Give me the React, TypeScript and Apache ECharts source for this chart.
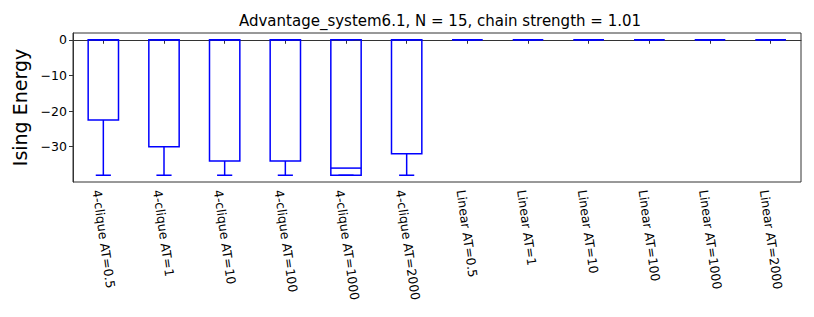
import React, { useEffect, useRef } from "react";
import * as echarts from "echarts";

const categories = [
  "4-clique AT=0.5",
  "4-clique AT=1",
  "4-clique AT=10",
  "4-clique AT=100",
  "4-clique AT=1000",
  "4-clique AT=2000",
  "Linear AT=0.5",
  "Linear AT=1",
  "Linear AT=10",
  "Linear AT=100",
  "Linear AT=1000",
  "Linear AT=2000",
];
// [whisker low, Q1, median, Q3, whisker high]
const lowWhisker = [-38, -38, -38, -38, -38, -38, 0, 0, 0, 0, 0, 0];
const q1 = [-22.5, -30, -34, -34, -38, -32, 0, 0, 0, 0, 0, 0];
const median = [0, 0, 0, 0, -36, 0, 0, 0, 0, 0, 0, 0];
const q3 = [0, 0, 0, 0, 0, 0, 0, 0, 0, 0, 0, 0];
const highWhisker = [0, 0, 0, 0, 0, 0, 0, 0, 0, 0, 0, 0];
const yTicks = [-30, -20, -10, 0];

const title = "Advantage_system6.1, N = 15, chain strength = 1.01";
const yName = "Ising Energy";
const BLUE = "#0000ff";
const FONT = "DejaVu Sans";

export default function App() {
  const ref = useRef<HTMLDivElement>(null);
  useEffect(() => {
    if (!ref.current) return;
    const chart = echarts.init(ref.current, null, { renderer: "svg" });
    const data = categories.map((_, i) => [i, lowWhisker[i], q1[i], median[i], q3[i], highWhisker[i]]);
    chart.setOption({
      animation: false,
      backgroundColor: "#ffffff",
      title: {
        text: title,
        left: 435,
        top: 8,
        textAlign: "center",
        textStyle: { fontFamily: FONT, fontSize: 15, fontWeight: "normal", color: "#000" },
      },
      grid: { left: 73, right: 13, top: 33, bottom: 135, show: true, borderColor: "#333", borderWidth: 1 },
      xAxis: {
        type: "category",
        data: categories,
        boundaryGap: true,
        axisLine: { show: true, lineStyle: { color: "#333", width: 1 } },
        axisTick: { show: true, alignWithLabel: true, inside: false, length: 4, lineStyle: { color: "#333" } },
        axisLabel: {
          interval: 0,
          rotate: -82,
          margin: 7,
          verticalAlign: "top",
          fontFamily: FONT,
          fontSize: 12.5,
          color: "#000",
        },
        splitLine: { show: false },
      },
      yAxis: {
        type: "value",
        min: -39.9,
        max: 1.9,
        name: yName,
        nameLocation: "middle",
        nameGap: 40,
        nameTextStyle: { fontFamily: FONT, fontSize: 19, color: "#000" },
        axisLine: { show: true, lineStyle: { color: "#333", width: 1 } },
        axisTick: { show: true, length: 4, customValues: yTicks, lineStyle: { color: "#333" } },
        axisLabel: {
          customValues: yTicks,
          fontFamily: FONT,
          fontSize: 12.5,
          color: "#000",
          margin: 6,
          formatter: (v: number) => (v < 0 ? "\u2212" + Math.abs(v) : String(v)),
        },
        splitLine: { show: false },
      },
      series: [
        {
          type: "custom",
          data,
          clip: false,
          renderItem: (params: any, api: any) => {
            const x = api.value(0);
            const lo = api.coord([x, api.value(1)]);
            const b1 = api.coord([x, api.value(2)]);
            const md = api.coord([x, api.value(3)]);
            const b3 = api.coord([x, api.value(4)]);
            const hi = api.coord([x, api.value(5)]);
            const bw = api.size([1, 0])[0] * 0.5;
            const cx = lo[0];
            const style = { stroke: BLUE, lineWidth: 1.5, fill: "none" };
            return {
              type: "group",
              children: [
                { type: "rect", shape: { x: cx - bw / 2, y: b3[1], width: bw, height: b1[1] - b3[1] }, style: { ...style } },
                { type: "line", shape: { x1: cx - bw / 2, y1: md[1], x2: cx + bw / 2, y2: md[1] }, style: { ...style } },
                { type: "line", shape: { x1: cx, y1: b1[1], x2: cx, y2: lo[1] }, style: { ...style } },
                { type: "line", shape: { x1: cx, y1: b3[1], x2: cx, y2: hi[1] }, style: { ...style } },
                { type: "line", shape: { x1: cx - bw / 4, y1: lo[1], x2: cx + bw / 4, y2: lo[1] }, style: { ...style } },
                { type: "line", shape: { x1: cx - bw / 4, y1: hi[1], x2: cx + bw / 4, y2: hi[1] }, style: { ...style } },
              ],
            };
          },
        },
      ],
    });
    return () => chart.dispose();
  }, []);
  return (
    <div
      ref={ref}
      style={{ position: "fixed", left: 0, top: 0, width: 814, height: 317 }}
    />
  );
}
